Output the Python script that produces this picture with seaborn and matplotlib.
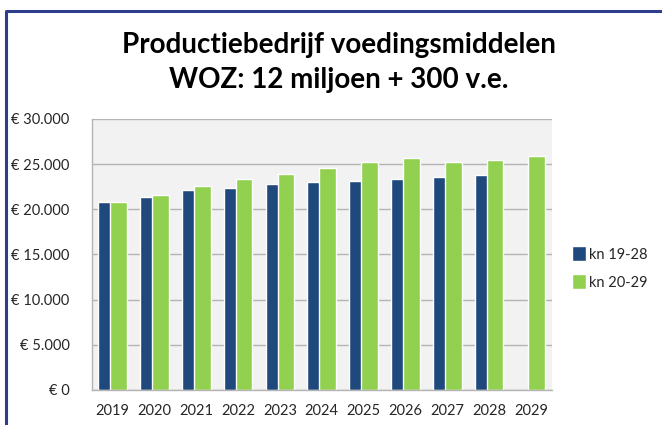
import matplotlib
matplotlib.use("Agg")
import matplotlib.pyplot as plt
import seaborn as sns
import pandas as pd
import numpy as np
from matplotlib.lines import Line2D
from matplotlib.ticker import FuncFormatter, MultipleLocator

years = [2019, 2020, 2021, 2022, 2023, 2024, 2025, 2026, 2027, 2028, 2029]
kn_19_28 = [20850, 21330, 22140, 22330, 22800, 22990, 23170, 23320, 23540, 23760, np.nan]
kn_20_29 = [20850, 21590, 22620, 23320, 23950, 24610, 25200, 25650, 25270, 25460, 25940]
series_names = ['kn 19-28', 'kn 20-29']

df = pd.DataFrame({
    'jaar': [str(y) for y in years] * 2,
    'reeks': [series_names[0]] * len(years) + [series_names[1]] * len(years),
    'waarde': kn_19_28 + kn_20_29,
})

sns.set_style("white")
plt.rcParams['font.family'] = ['Lato', 'DejaVu Sans']

fig = plt.figure(figsize=(6.62, 4.25), dpi=100)
ax = fig.add_axes([0.1385, 0.0824, 0.695, 0.6376])
ax.set_facecolor('#f2f2f2')

sns.barplot(data=df, x='jaar', y='waarde', hue='reeks',
            palette=['#1f497d', '#92d050'], width=0.57, gap=-0.4,
            saturation=1, ax=ax)

ax.set_ylim(0, 30000)
ax.set_xlim(-0.5, len(years) - 0.5)
ax.yaxis.set_major_locator(MultipleLocator(5000))
ax.yaxis.set_major_formatter(FuncFormatter(lambda v, p: '€ ' + f'{int(v):,}'.replace(',', '.')))
ax.grid(True, axis='y', color='#b4b4b4', linewidth=1)
ax.set_axisbelow(True)
ax.set_xlabel('')
ax.set_ylabel('')
ax.tick_params(axis='both', length=0, labelsize=10.5, labelcolor='#262626')
ax.tick_params(axis='y', pad=16)
ax.tick_params(axis='x', pad=10)
for side in ['top', 'right']:
    ax.spines[side].set_visible(False)
for side in ['left', 'bottom']:
    ax.spines[side].set_color('#b4b4b4')
    ax.spines[side].set_linewidth(1)

leg = ax.legend(loc='center left', bbox_to_anchor=(1.015, 0.45), frameon=False,
                fontsize=10.5, handlelength=1.0, handleheight=1.2,
                handletextpad=0.2, labelspacing=0.85)
for t in leg.get_texts():
    t.set_color('#262626')

fig.text(0.512, 0.853, 'Productiebedrijf voedingsmiddelen\nWOZ: 12 miljoen + 300 v.e.',
         ha='center', va='center', fontsize=20, fontweight='bold',
         linespacing=1.42, color='black')

# chart frame (blue border, left and top)
fig.add_artist(Line2D([0.009, 0.009, 1.0], [0.0, 0.974, 0.974],
                      transform=fig.transFigure, color='#2e3d8c', linewidth=2.2))

fig.savefig('out.png', dpi=100)
